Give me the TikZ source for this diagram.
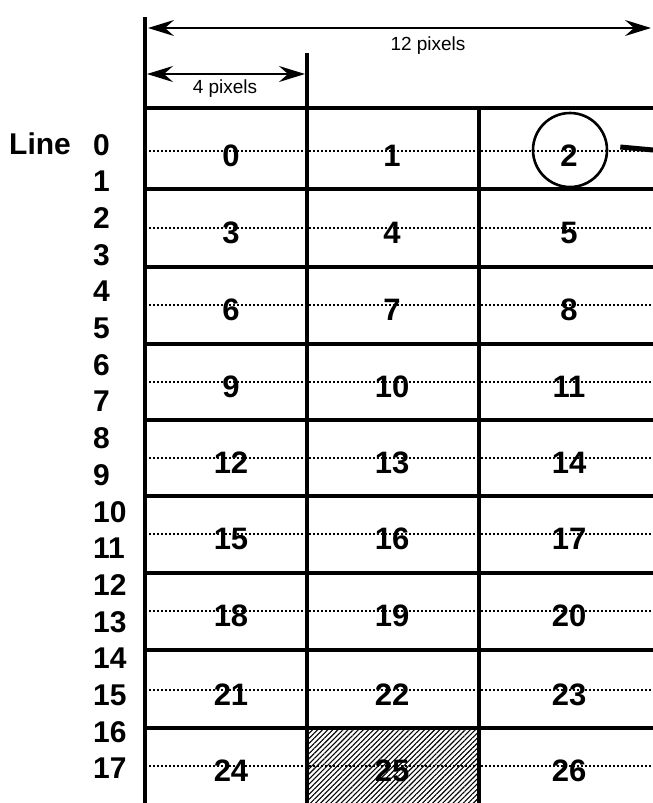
\documentclass[tikz,border=0pt]{standalone}
\usepackage{fontspec}
\setmainfont{Liberation Sans}
\usetikzlibrary{arrows.meta,patterns.meta}
\begin{document}
\begin{tikzpicture}[x=1pt,y=-1pt,
  gridline/.style={line width=3.1pt},
  dotline/.style={line width=1.8pt,dash pattern=on 1.6pt off 2.4pt},
  dimline/.style={line width=2.1pt,{Stealth[length=26pt,width=16pt,inset=9pt]}-{Stealth[length=26pt,width=16pt,inset=9pt]}},
  celltxt/.style={inner sep=0pt,anchor=base,font=\fontsize{31}{31}\selectfont\bfseries},
  linetxt/.style={inner sep=0pt,anchor=base west,font=\fontsize{30}{30}\selectfont\bfseries},
  dimtxt/.style={inner sep=0pt,anchor=base,font=\fontsize{19}{19}\selectfont}]
\useasboundingbox (0,0) rectangle (653,803);
% hatched cell
\fill[pattern={Lines[angle=45,distance=3.6pt,line width=1.1pt]}] (307,728) rectangle (479,803);
% dotted centre lines
\foreach \y in {151,228,305,382,458,534,611,690,766}
  \draw[dotline] (145,\y) -- (653,\y);
% grid
\foreach \y in {108,189,267,344,420,496,573,650,728}
  \draw[gridline] (145,\y) -- (653,\y);
\draw[gridline] (145,17) -- (145,803);
\draw[gridline] (307,53) -- (307,803);
\draw[gridline] (479,108) -- (479,803);
\draw[line width=3.6pt] (307,728) rectangle (479,806);
% dimension arrows
\coordinate (a1) at (148,28); \coordinate (a2) at (651,28);
\coordinate (b1) at (147,74); \coordinate (b2) at (305,74);
\draw[dimline] (a1) -- (a2);
\draw[dimline] (b1) -- (b2);
\node[dimtxt] (t12) at (428,50) {12 pixels};
\node[dimtxt] (t4) at (225,93) {4 pixels};
% circle and pointer
\node[draw,circle,line width=2.6pt,minimum size=74pt,inner sep=0pt] (circ) at (570,150) {};
\coordinate (p2) at (653,150);
\draw[line width=5pt] (circ.east) ++(12pt,3pt) coordinate (p1) -- (p2);
% cell numbers
\foreach \r/\y in {0/151,1/228,2/305,3/382,4/458,5/534,6/611,7/690,8/766}{
  \pgfmathtruncatemacro{\na}{3*\r}
  \pgfmathtruncatemacro{\nb}{3*\r+1}
  \pgfmathtruncatemacro{\nc}{3*\r+2}
  \node[celltxt] (c\na) at (231,\y+15) {\na};
  \node[celltxt] (c\nb) at (392,\y+15) {\nb};
  \node[celltxt] (c\nc) at (569,\y+15) {\nc};
}
% line numbers
\node[linetxt] (line) at (9,154) {Line};
\foreach \k in {0,...,17}
  \node[linetxt] (l\k) at (93,155+36.7*\k) {\k};
\end{tikzpicture}
\end{document}
